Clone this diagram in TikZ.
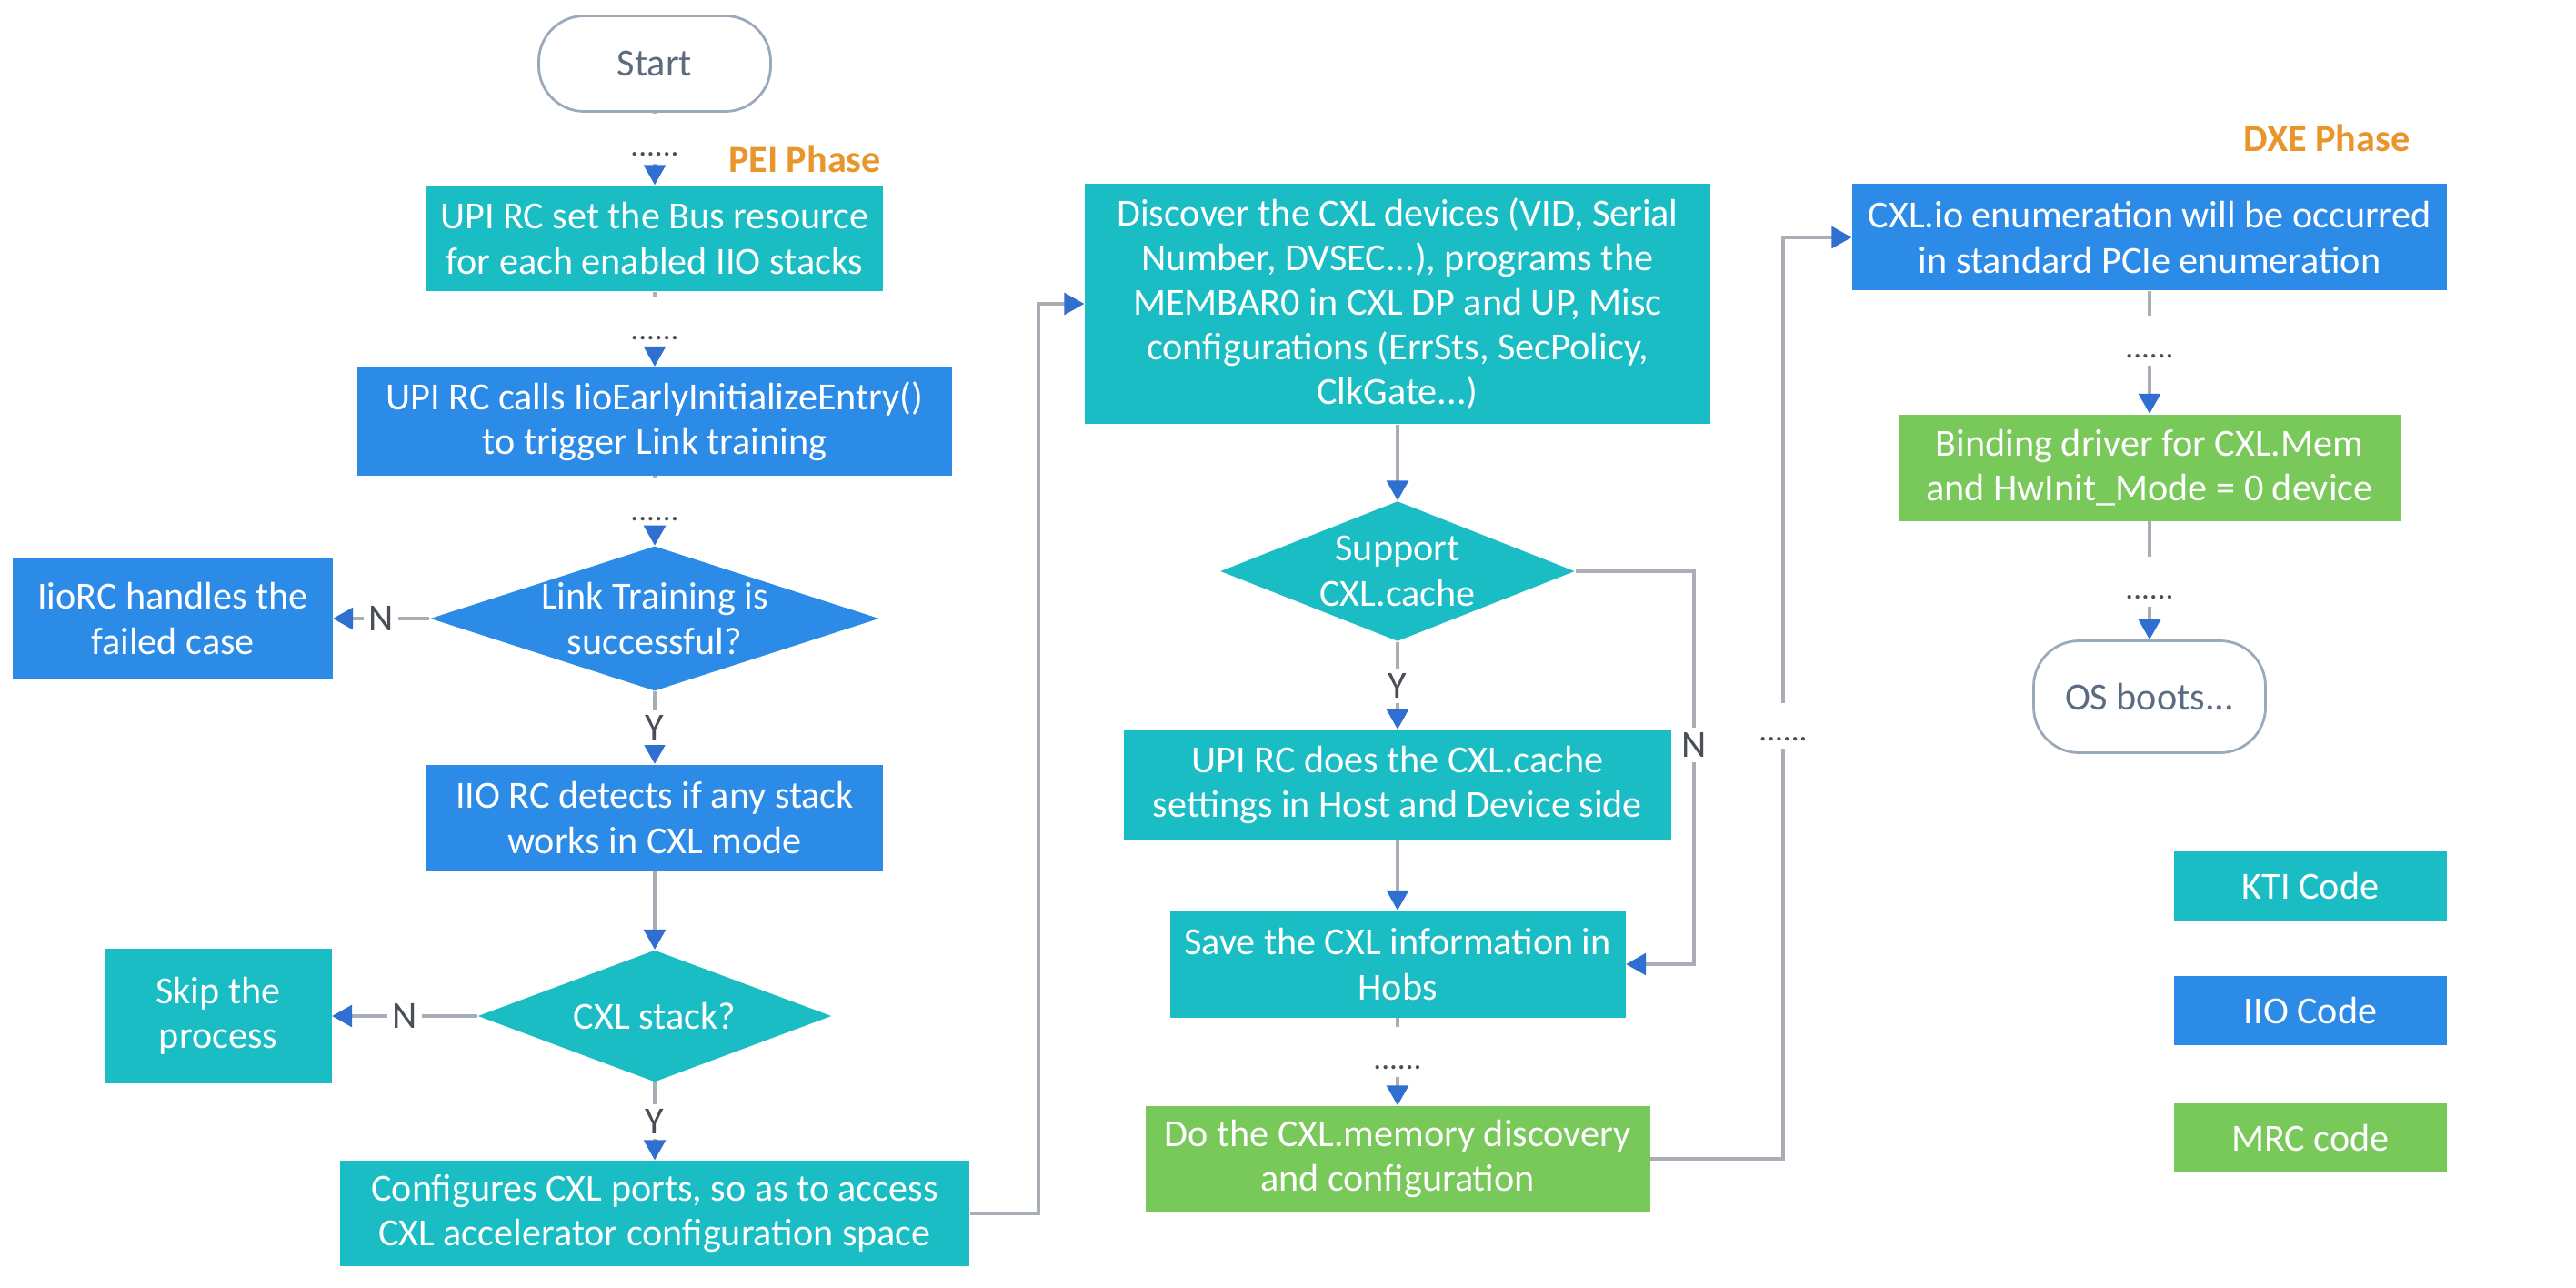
\documentclass[tikz,border=0pt]{standalone}
\usepackage{fontspec}
\setmainfont{Carlito}
\usepackage{tikz}
\usetikzlibrary{positioning,shapes.geometric,arrows.meta}

\definecolor{ktiteal}{HTML}{1BBDC5}
\definecolor{iioblue}{HTML}{2B8BE6}
\definecolor{mrcgreen}{HTML}{78C85A}
\definecolor{linegray}{HTML}{A9ADB5}
\definecolor{tipblue}{HTML}{2F6FD0}
\definecolor{phaseorange}{HTML}{E8952C}
\definecolor{pillgray}{HTML}{9AAABB}
\definecolor{pilltext}{HTML}{5B6B80}
\definecolor{labelgray}{HTML}{4A4F57}

\begin{document}
\begin{tikzpicture}[every node/.style = {font=\fontsize{12}{14}\selectfont, align=center},
        box/.style = {rectangle, text=white, inner sep=2pt},
        kti/.style = {box, fill=ktiteal},
        iio/.style = {box, fill=iioblue},
        mrc/.style = {box, fill=mrcgreen},
        decide/.style = {diamond, text=white, inner sep=0pt},
        term/.style = {rectangle, rounded corners=0.5cm, fill=white, draw=pillgray, line width=0.8pt, text=pilltext},
        phase/.style = {font=\fontsize{12}{14}\selectfont\bfseries, text=phaseorange},
        gapdots/.style = {font=\fontsize{10}{12}\selectfont, text=labelgray, inner sep=2pt},
        yn/.style = {fill=white, text=labelgray, inner sep=1.5pt},
        conn/.style = {draw=linegray, line width=0.9pt},
        flow/.style = {conn, -{Triangle[width=0.24cm,length=0.22cm,color=tipblue]}}]
        \path[use as bounding box, fill=white] (0,0) rectangle (28.33,-14.15);

        % PEI phase
        \node(start) [term, minimum width=2.55cm, minimum height=1.05cm] at (7.20,-0.70) {Start};
        \node(pei) [phase] at (8.85,-1.75) {PEI Phase};
        \node(d1) [gapdots] at (7.20,-1.70) {......};
        \node(setbus) [kti, minimum width=5.02cm, minimum height=1.16cm] at (7.20,-2.62) {UPI RC set the Bus resource\\for each enabled IIO stacks};
        \node(d2) [gapdots] at (7.20,-3.72) {......};
        \node(early) [iio, minimum width=6.54cm, minimum height=1.19cm] at (7.20,-4.63) {UPI RC calls IioEarlyInitializeEntry()\\to trigger Link training};
        \node(d3) [gapdots] at (7.20,-5.71) {......};
        \node(linkok) [decide, fill=iioblue, minimum width=4.90cm, minimum height=1.57cm, shape aspect=3.1] at (7.20,-6.80) {Link Training is\\successful?};
        \node(failed) [iio, minimum width=3.51cm, minimum height=1.34cm] at (1.90,-6.80) {IioRC handles the\\failed case};
        \node(detect) [iio, minimum width=5.02cm, minimum height=1.17cm] at (7.20,-8.99) {IIO RC detects if any stack\\works in CXL mode};
        \node(cxlstack) [decide, fill=ktiteal, minimum width=3.89cm, minimum height=1.45cm, shape aspect=2.7] at (7.20,-11.17) {CXL stack?};
        \node(skip) [kti, minimum width=2.49cm, minimum height=1.48cm] at (2.40,-11.17) {Skip the\\process};
        \node(config) [kti, minimum width=6.92cm, minimum height=1.16cm] at (7.20,-13.34) {Configures CXL ports, so as to access\\CXL accelerator configuration space};
        \coordinate(upturn) at (11.42,-3.34);

        \node(discover) [kti, minimum width=6.88cm, minimum height=2.64cm] at (15.37,-3.34) {Discover the CXL devices (VID, Serial\\Number, DVSEC...), programs the\\MEMBAR0 in CXL DP and UP, Misc\\configurations (ErrSts, SecPolicy,\\ClkGate...)};
        \node(cache) [decide, fill=ktiteal, minimum width=3.90cm, minimum height=1.54cm, shape aspect=2.5] at (15.37,-6.28) {Support\\CXL.cache};
        \node(cachecfg) [kti, minimum width=6.02cm, minimum height=1.21cm] at (15.37,-8.63) {UPI RC does the CXL.cache\\settings in Host and Device side};
        \node(savehob) [kti, minimum width=5.01cm, minimum height=1.17cm] at (15.37,-10.60) {Save the CXL information in\\Hobs};
        \node(d4) [gapdots] at (15.37,-11.74) {......};
        \node(memdisc) [mrc, minimum width=5.55cm, minimum height=1.16cm] at (15.37,-12.74) {Do the CXL.memory discovery\\and configuration};
        \coordinate(ncorner) at (18.63,-8.19);
        \node(d7) [gapdots] at (19.61,-8.13) {......};

        % DXE phase
        \node(dxe) [phase] at (25.59,-1.52) {DXE Phase};
        \node(cxlio) [iio, minimum width=6.54cm, minimum height=1.17cm] at (23.64,-2.61) {CXL.io enumeration will be occurred\\in standard PCIe enumeration};
        \node(d5) [gapdots] at (23.64,-3.92) {......};
        \node(binding) [mrc, minimum width=5.53cm, minimum height=1.17cm] at (23.64,-5.14) {Binding driver for CXL.Mem\\and HwInit\_Mode = 0 device};
        \node(d6) [gapdots] at (23.64,-6.57) {......};
        \node(osboot) [term, minimum width=2.55cm, minimum height=1.23cm] at (23.64,-7.66) {OS boots...};

        \node(legkti) [kti, minimum width=3.00cm, minimum height=0.76cm] at (25.41,-9.74) {KTI Code};
        \node(legiio) [iio, minimum width=3.00cm, minimum height=0.76cm] at (25.41,-11.11) {IIO Code};
        \node(legmrc) [mrc, minimum width=3.00cm, minimum height=0.76cm] at (25.41,-12.51) {MRC code};

        \draw[conn, shorten >=0.35cm] (start) -- (d1);
        \draw[flow] (d1) -- (setbus);
        \draw[conn, shorten >=0.35cm] (setbus) -- (d2);
        \draw[flow] (d2) -- (early);
        \draw[conn, shorten >=0.35cm] (early) -- (d3);
        \draw[flow] (d3) -- (linkok);
        \draw[flow] (linkok) -- node[yn] {N} (failed);
        \draw[flow] (linkok) -- node[yn] {Y} (detect);
        \draw[flow] (detect) -- (cxlstack);
        \draw[flow] (cxlstack) -- node[yn] {N} (skip);
        \draw[flow] (cxlstack) -- node[yn] {Y} (config);
        \draw[flow] (config.east) -| (upturn) -- (discover.west);

        \draw[flow] (discover) -- (cache);
        \draw[flow] (cache) -- node[yn] {Y} (cachecfg);
        \draw[flow] (cache.east) -| (ncorner) node[yn] {N} |- (savehob.east);
        \draw[flow] (cachecfg) -- (savehob);
        \draw[conn, shorten >=0.35cm] (savehob) -- (d4);
        \draw[flow] (d4) -- (memdisc);
        \draw[conn] (memdisc.east) -| (d7);
        \draw[flow, shorten <=0.3cm] (d7) |- (cxlio.west);

        \draw[conn, shorten >=0.35cm] (cxlio) -- (d5);
        \draw[flow] (d5) -- (binding);
        \draw[conn, shorten >=0.35cm] (binding) -- (d6);
        \draw[flow] (d6) -- (osboot);
    \end{tikzpicture}
\end{document}
